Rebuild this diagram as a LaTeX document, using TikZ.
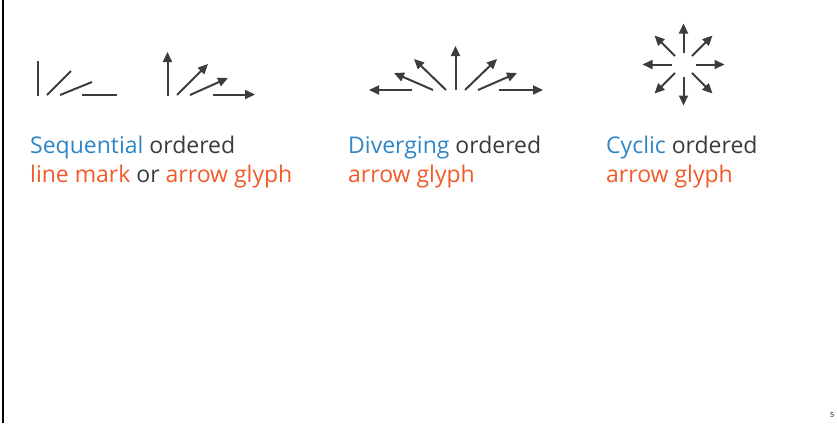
\documentclass[tikz,border=0pt]{standalone}
\usepackage{fontspec}
\setmainfont{Open Sans}
\usetikzlibrary{arrows.meta}
\definecolor{glyphgray}{HTML}{3C3C3C}
\definecolor{seqblue}{HTML}{2F86C6}
\definecolor{markorange}{HTML}{F15A29}
\definecolor{textgray}{HTML}{3A3A3A}
\tikzset{
	glyph/.style={glyphgray, line width=2pt},
	arrowglyph/.style={glyph, -{Triangle[length=10pt,width=9pt]}},
	idiomtext/.style={anchor=base west, inner sep=0pt, text=textgray, font=\fontsize{23}{28}\selectfont}
}
\newcommand{\keyword}[1]{\textcolor{seqblue}{#1}}
\newcommand{\markword}[1]{\textcolor{markorange}{#1}}
\begin{document}
\begin{tikzpicture}[x=1pt,y=-1pt]
\useasboundingbox (0,0) rectangle (837,423);
\draw [black, line width=2pt] (3,0) -- (3,423);
% sequential: line marks
\draw [glyph] (37.5,61) -- (37.5,96);
\draw [glyph] (47,95) -- (71,71);
\draw [glyph] (60,95) -- (92,82);
\draw [glyph] (82,94.5) -- (117,94.5);
% sequential: arrow glyphs
\draw [arrowglyph] (167.5,96) -- (167.5,52);
\draw [arrowglyph] (177,95) -- (208,64);
\draw [arrowglyph] (190,95) -- (228,78);
\draw [arrowglyph] (213,94.5) -- (255,94.5);
% diverging
\draw [arrowglyph] (412,90) -- (369,90);
\draw [arrowglyph] (433,90) -- (394,73);
\draw [arrowglyph] (446,90) -- (414,59);
\draw [arrowglyph] (455.5,90) -- (455.5,46);
\draw [arrowglyph] (465,90) -- (497,59);
\draw [arrowglyph] (478,90) -- (517,73);
\draw [arrowglyph] (499,90) -- (543,90);
% cyclic
\foreach \a in {0,45,...,315}
	\draw [arrowglyph, shift={(683.5,64.5)}] (\a:12) -- (\a:41);
\path
	(30,153) node [idiomtext] (seqtop) {\keyword{Sequential} ordered}
	(30,182.5) node [idiomtext] (seqbot) {\markword{line mark} or \markword{arrow glyph}}
	(348,153) node [idiomtext] (divtop) {\keyword{Diverging} ordered}
	(348,182.5) node [idiomtext] (divbot) {\markword{arrow glyph}}
	(606,153) node [idiomtext] (cyctop) {\keyword{Cyclic} ordered}
	(606,182.5) node [idiomtext] (cycbot) {\markword{arrow glyph}}
	(830,417) node [anchor=base west, inner sep=0pt, font=\fontsize{7}{8}\selectfont] (pagenum) {5};
\end{tikzpicture}
\end{document}
